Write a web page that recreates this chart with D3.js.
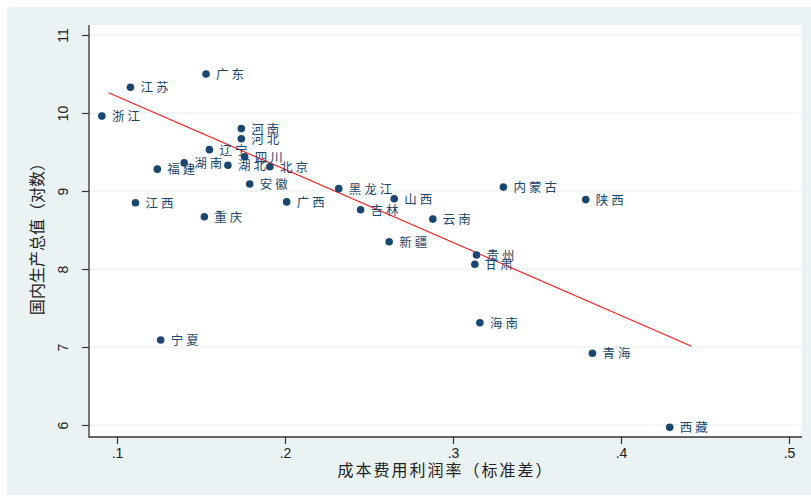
<!DOCTYPE html>
<html>
<head>
<meta charset="utf-8">
<script src="https://cdn.jsdelivr.net/npm/d3@7"></script>
<style>
  html, body { margin: 0; padding: 0; background: #ffffff; }
  svg { display: block; }
</style>
</head>
<body>
<svg id="chart" width="811" height="497"></svg>
<script>
// Provinces and their values
const provinces = ["广东","江苏","浙江","河南","河北","辽宁","湖南","福建","湖北","四川","北京","安徽","江西","广西","重庆","黑龙江","山西","吉林","云南","新疆","内蒙古","陕西","贵州","甘肃","海南","青海","西藏","宁夏"];
const profitSD = [0.153,0.108,0.091,0.174,0.174,0.155,0.140,0.124,0.166,0.176,0.191,0.179,0.111,0.201,0.152,0.232,0.265,0.245,0.288,0.262,0.330,0.379,0.314,0.313,0.316,0.383,0.429,0.126];
const gdpLog   = [10.50,10.33,9.96,9.80,9.67,9.53,9.36,9.28,9.33,9.44,9.31,9.09,8.85,8.86,8.67,9.03,8.90,8.76,8.64,8.35,9.05,8.89,8.18,8.06,7.31,6.92,5.97,7.09];

// Linear fit end points
const fitX = [0.095, 0.442];
const fitY = [10.26, 7.01];

const xTicks = [0.1, 0.2, 0.3, 0.4, 0.5];
const xTickLabels = [".1", ".2", ".3", ".4", ".5"];
const yTicks = [6, 7, 8, 9, 10, 11];

const xTitle = "成本费用利润率（标准差）";
const yTitle = "国内生产总值（对数）";

const svg = d3.select("#chart");
const W = 811, H = 497;
const plot = { left: 89, right: 802, top: 25, bottom: 437 };
const navy = "#1a476f";
const cjk = "'Noto Sans CJK SC', 'Noto Sans', sans-serif";

// Outer graph region
svg.append("rect").attr("x", 7).attr("y", 7).attr("width", W - 7).attr("height", H - 9)
  .attr("fill", "#eaf2f3");
// Plot region
svg.append("rect").attr("x", plot.left).attr("y", plot.top)
  .attr("width", plot.right - plot.left).attr("height", plot.bottom - plot.top)
  .attr("fill", "#ffffff");

const x = d3.scaleLinear().domain([0.1, 0.5]).range([117, 789]);
const y = d3.scaleLinear().domain([6, 11]).range([425, 35]);

// Horizontal grid lines
svg.append("g").selectAll("line").data(yTicks).join("line")
  .attr("x1", plot.left).attr("x2", plot.right)
  .attr("y1", d => y(d)).attr("y2", d => y(d))
  .attr("stroke", "#e6eef0").attr("stroke-width", 1.2);

// Y axis
const yAxis = svg.append("g").attr("transform", `translate(${plot.left},0)`)
  .call(d3.axisLeft(y).tickValues(yTicks).tickFormat(d3.format("d")).tickSize(7).tickSizeOuter(0));
yAxis.select(".domain").remove();
yAxis.append("line").attr("x1", 0).attr("x2", 0).attr("y1", plot.top).attr("y2", plot.bottom + 1)
  .attr("stroke", "#333").attr("stroke-width", 1.3);
yAxis.selectAll(".tick line").attr("stroke", "#333").attr("stroke-width", 1.2);
yAxis.selectAll(".tick text")
  .attr("font-family", "'Liberation Sans', Arial, sans-serif").attr("font-size", 14).attr("fill", "#222")
  .attr("x", 0).attr("dy", 0)
  .attr("text-anchor", "middle")
  .attr("transform", "translate(-21,0) rotate(-90)");

// X axis
const xAxis = svg.append("g").attr("transform", `translate(0,${plot.bottom})`)
  .call(d3.axisBottom(x).tickValues(xTicks).tickFormat((d, i) => xTickLabels[i]).tickSize(7).tickSizeOuter(0));
xAxis.select(".domain").remove();
xAxis.append("line").attr("x1", plot.left).attr("x2", plot.right).attr("y1", 0).attr("y2", 0)
  .attr("stroke", "#333").attr("stroke-width", 1.3);
xAxis.selectAll(".tick line").attr("stroke", "#333").attr("stroke-width", 1.2);
xAxis.selectAll(".tick text")
  .attr("font-family", "'Liberation Sans', Arial, sans-serif").attr("font-size", 14).attr("fill", "#222")
  .attr("y", 11);

// Axis titles
svg.append("text").attr("x", (plot.left + plot.right) / 2).attr("y", 476)
  .attr("text-anchor", "middle").attr("font-family", cjk).attr("font-size", 16)
  .attr("letter-spacing", 2).attr("fill", "#222").text(xTitle);
svg.append("text")
  .attr("transform", `translate(43,${(plot.top + plot.bottom) / 2 + 4}) rotate(-90)`)
  .attr("text-anchor", "middle").attr("font-family", cjk).attr("font-size", 16)
  .attr("fill", "#222").text(yTitle);

// Fitted line
svg.append("line")
  .attr("x1", x(fitX[0])).attr("y1", y(fitY[0]))
  .attr("x2", x(fitX[1])).attr("y2", y(fitY[1]))
  .attr("stroke", "#ff1a1a").attr("stroke-width", 1.1);

// Points and labels
const pts = provinces.map((p, i) => ({ name: p, vx: profitSD[i], vy: gdpLog[i] }));
svg.append("g").selectAll("circle").data(pts).join("circle")
  .attr("cx", d => x(d.vx)).attr("cy", d => y(d.vy)).attr("r", 3.8)
  .attr("fill", navy);
svg.append("g").selectAll("text").data(pts).join("text")
  .attr("x", d => x(d.vx) + 10).attr("y", d => y(d.vy) + 5)
  .attr("font-family", cjk).attr("font-size", 12.5).attr("letter-spacing", 3)
  .attr("fill", navy).text(d => d.name);
</script>
</body>
</html>
